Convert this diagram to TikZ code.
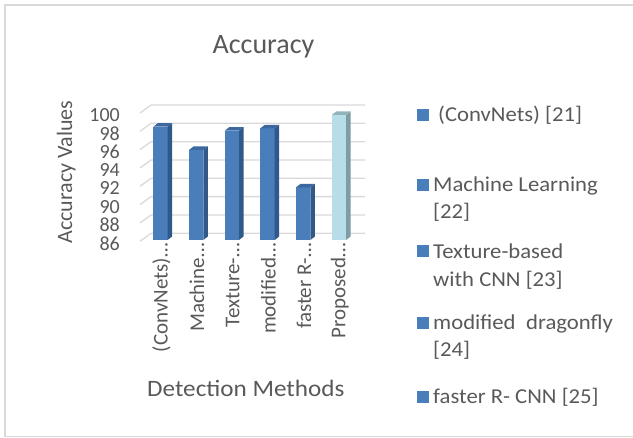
\documentclass[tikz,border=0pt]{standalone}
\usepackage{fontspec}
\setmainfont{Carlito}
\newfontfamily\widefont[FakeStretch=1.07]{Carlito}
\definecolor{txt}{HTML}{595959}
\definecolor{gridc}{HTML}{D9D9D9}
\definecolor{framec}{HTML}{D9D9D9}
\definecolor{barF}{HTML}{4A7EBB}
\definecolor{barS}{HTML}{30598A}
\definecolor{barT}{HTML}{3C689F}
\definecolor{hiF}{HTML}{B7DEE8}
\definecolor{hiS}{HTML}{7E9CA3}
\definecolor{hiT}{HTML}{93B3BB}
\begin{document}
\begin{tikzpicture}[x=1pt,y=-1pt,
  frame/.style={draw=framec,line width=1.2pt},
  grid/.style={draw=gridc,line width=1.3pt},
  lbl/.style={inner sep=0pt,text=txt},
  ticklbl/.style={lbl,font=\fontsize{20}{20}\selectfont},
  catlbl/.style={lbl,font=\fontsize{21}{21}\selectfont,rotate=90,anchor=east},
  legtxt/.style={lbl,font=\widefont\fontsize{21.2}{21}\selectfont,anchor=base west},
  legbox/.style={fill=barF},
]
\useasboundingbox (0,0) rectangle (633,438);
% chart frame
\draw[frame] (633,5) -- (5,5) -- (5,436.5) -- (633,436.5);

% back-wall grid with slanted floor edges
\foreach \k in {0,...,7}{
  \pgfmathsetmacro{\gy}{105+\k*18.33}
  \draw[grid] (140,\gy+8) -- (151,\gy) -- (365,\gy);
}

% value axis labels
\foreach \v [count=\k from 0] in {100,98,96,94,92,90,88,86}{
  \node[ticklbl,anchor=east] (tick\v) at (120,{115+\k*18.33}) {\v};
}

% 3-D columns: index / top of front face / front, side, top colours / label
\foreach \i/\t/\fc/\sc/\tc/\lab in {
  0/126.7/barF/barS/barT/{(ConvNets)…},
  1/150/barF/barS/barT/{Machine…},
  2/130.7/barF/barS/barT/{Texture-…},
  3/128.3/barF/barS/barT/{modified…},
  4/187.3/barF/barS/barT/{faster R-…},
  5/115/hiF/hiS/hiT/{Proposed…}}{
  \pgfmathsetmacro{\xl}{153.3+\i*35.7}
  \pgfmathsetmacro{\xr}{\xl+14.3}
  \fill[\fc] (\xl,\t) rectangle (\xr,240);
  \fill[\sc] (\xr,\t) -- (\xr+4.5,\t-3.5) -- (\xr+4.5,236.5) -- (\xr,240) -- cycle;
  \fill[\tc] (\xl,\t) -- (\xl+4.5,\t-3.5) -- (\xr+4.5,\t-3.5) -- (\xr,\t) -- cycle;
  \node[catlbl] (cat\i) at (\xl+8,243) {\lab};
}

% titles
\node[lbl,anchor=base,font=\fontsize{28}{28}\selectfont] (title) at (263.5,53.3) {Accuracy};
\node[lbl,anchor=base,font=\widefont\fontsize{23.5}{23}\selectfont] (xtitle) at (245.8,396.7) {Detection Methods};
\node[lbl,anchor=base,rotate=90,font=\fontsize{22}{22}\selectfont] (ytitle) at (72,172) {Accuracy Values};

% legend
\foreach \c in {115,185,251,323,397}{
  \fill[legbox] (416.5,\c-6) rectangle (428.5,\c+6);
}
\node[legtxt] (lega) at (438,122) {(ConvNets) [21]};
\node[legtxt] (legb1) at (433,192) {Machine Learning};
\node[legtxt] (legb2) at (433,219) {[22]};
\node[legtxt] (legc1) at (433,258.3) {Texture-based};
\node[legtxt] (legc2) at (433,286.7) {with CNN [23]};
\node[legtxt] (legd1) at (433,330) {modified\hspace{0.5em}dragonfly};
\node[legtxt] (legd2) at (433,357) {[24]};
\node[legtxt] (lege) at (433,404) {faster R- CNN [25]};
\end{tikzpicture}
\end{document}
